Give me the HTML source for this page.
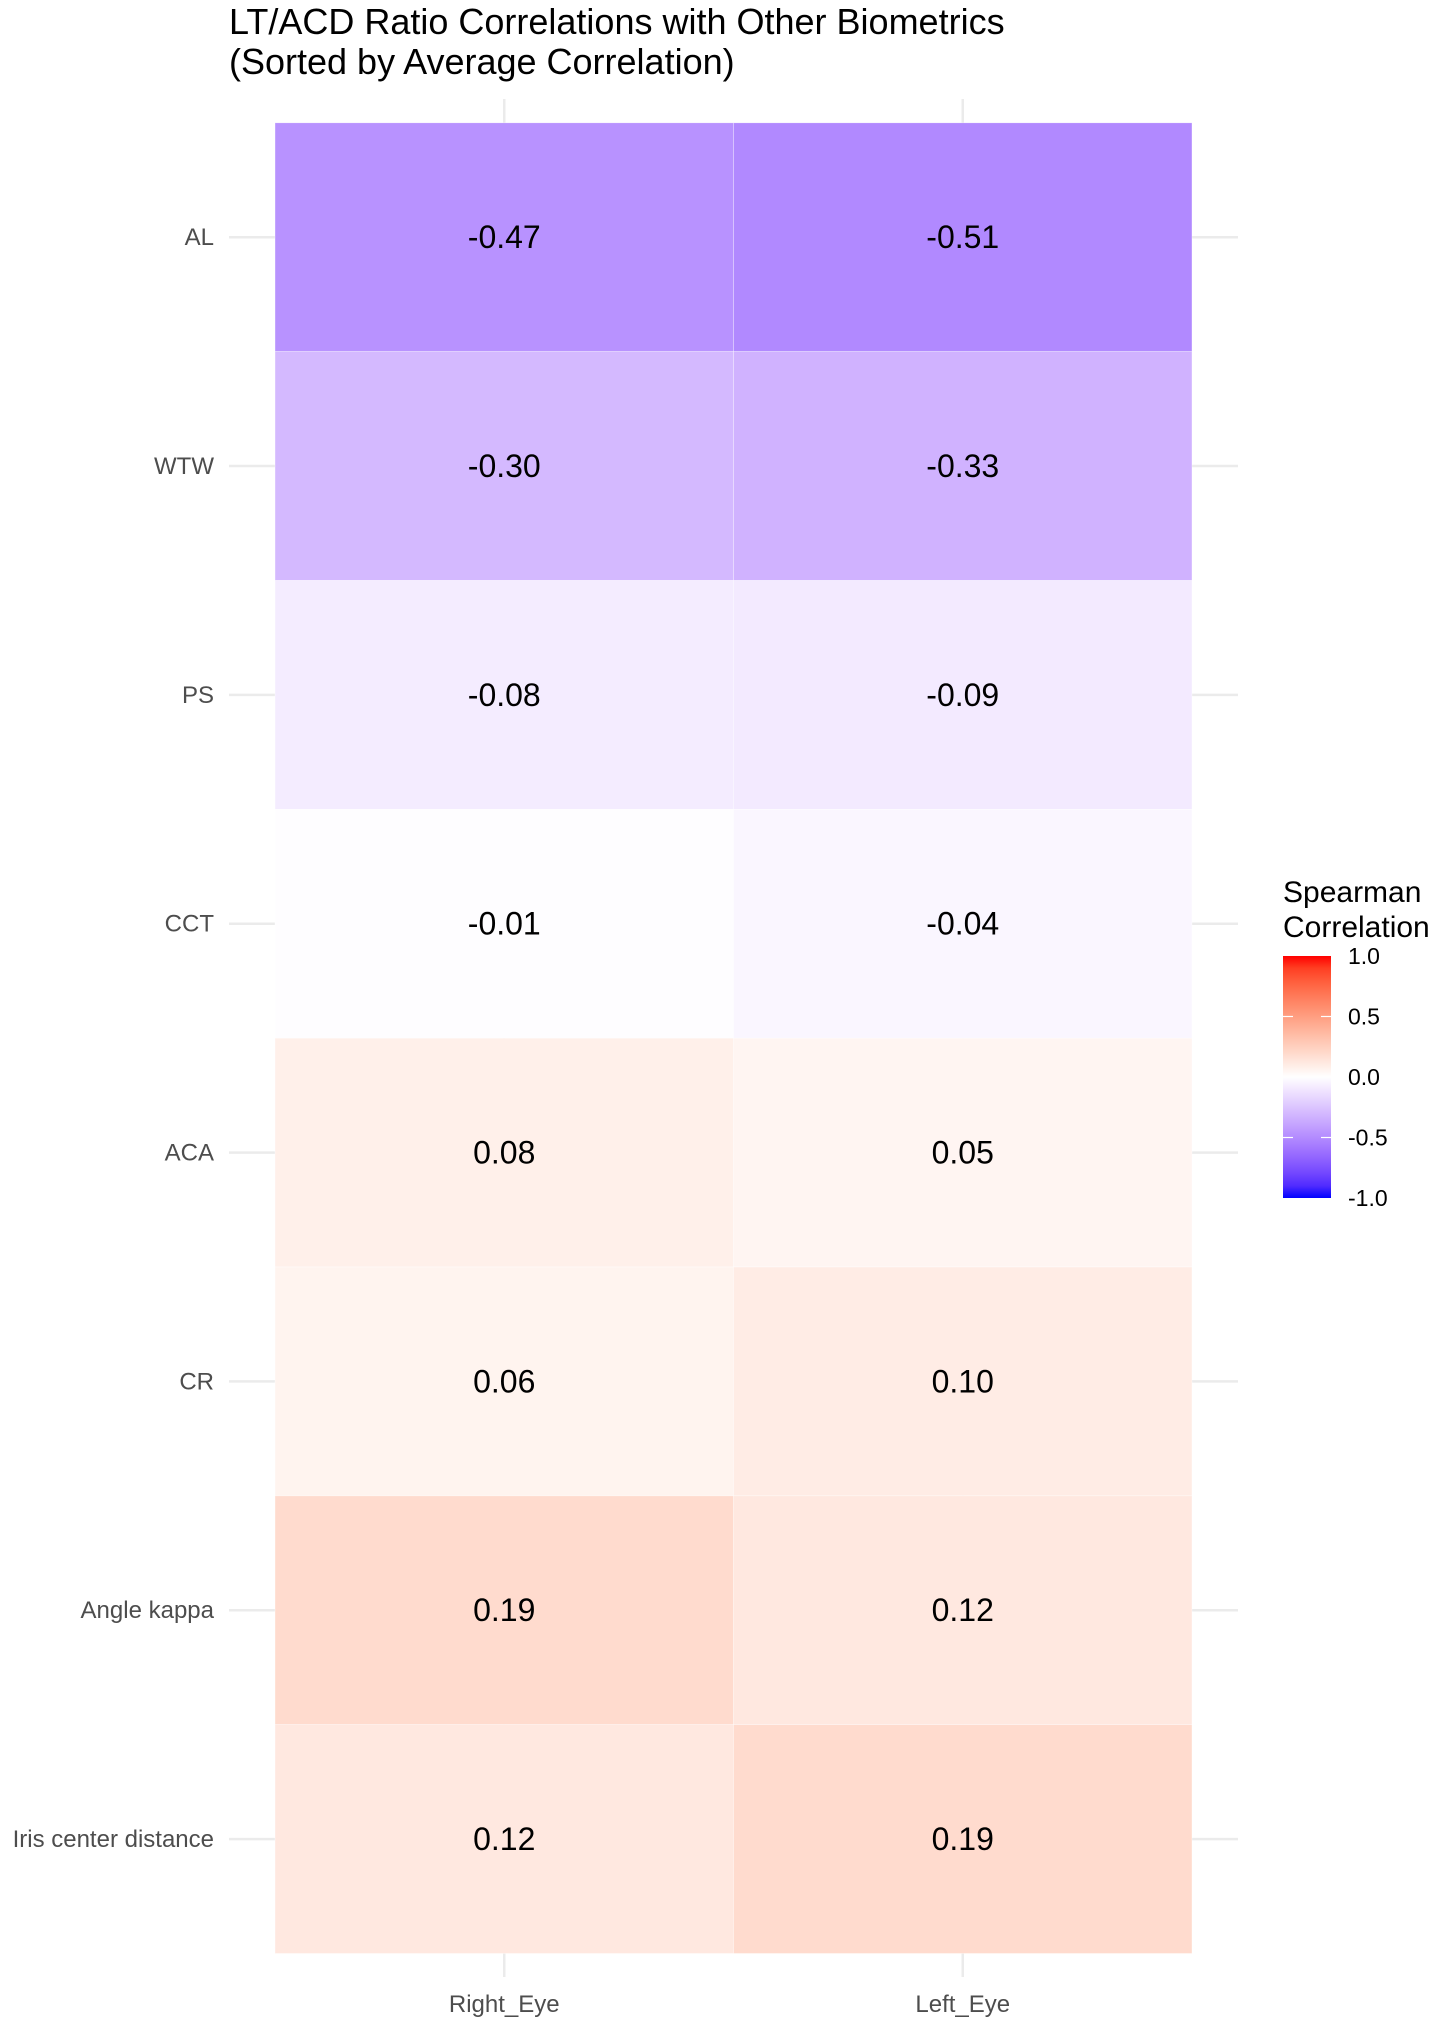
<!DOCTYPE html>
<html><head><meta charset="utf-8"><style>
body{margin:0;background:#fff;}
svg text{font-family:"Liberation Sans",sans-serif;}
</style></head><body>
<svg id="chart" width="1441" height="2025" xmlns="http://www.w3.org/2000/svg">
<defs>
<linearGradient id="lg" x1="0" y1="1" x2="0" y2="0"></linearGradient>
</defs>
<text x="229" y="34" font-size="36" fill="#000">LT/ACD Ratio Correlations with Other Biometrics</text>
<text x="229" y="74" font-size="36" fill="#000">(Sorted by Average Correlation)</text>
<g id="grid"></g><g id="cells"></g><g id="labels"></g><g id="legend"></g>
</svg>
<script>
const rows = ["AL","WTW","PS","CCT","ACA","CR","Angle kappa","Iris center distance"];
const cols = ["Right_Eye","Left_Eye"];
const rightEye = [-0.47,-0.30,-0.08,-0.01,0.08,0.06,0.19,0.12];
const leftEye = [-0.51,-0.33,-0.09,-0.04,0.05,0.10,0.12,0.19];
const legendTicks = [1.0,0.5,0.0,-0.5,-1.0];

const NS="http://www.w3.org/2000/svg";
function mk(tag,attrs,parent){const e=document.createElementNS(NS,tag);for(const k in attrs)e.setAttribute(k,attrs[k]);parent.appendChild(e);return e;}
function s2l(c){c/=255;return c<=0.04045?c/12.92:Math.pow((c+0.055)/1.055,2.4);}
function l2s(c){c=c<=0.0031308?12.92*c:1.055*Math.pow(c,1/2.4)-0.055;return Math.max(0,Math.min(255,Math.round(c*255)));}
function toLab(r,g,b){r=s2l(r);g=s2l(g);b=s2l(b);
 let X=(0.4124*r+0.3576*g+0.1805*b)/0.95047,Y=(0.2126*r+0.7152*g+0.0722*b),Z=(0.0193*r+0.1192*g+0.9505*b)/1.08883;
 const f=t=>t>0.008856?Math.cbrt(t):7.787*t+16/116;X=f(X);Y=f(Y);Z=f(Z);return [116*Y-16,500*(X-Y),200*(Y-Z)];}
function fromLab(L,a,b){let Y=(L+16)/116,X=a/500+Y,Z=Y-b/200;const fi=t=>t*t*t>0.008856?t*t*t:(t-16/116)/7.787;
 X=fi(X)*0.95047;Y=fi(Y);Z=fi(Z)*1.08883;
 const r=3.2406*X-1.5372*Y-0.4986*Z,g=-0.9689*X+1.8758*Y+0.0415*Z,bb=0.0557*X-0.2040*Y+1.0570*Z;
 return `rgb(${l2s(r)},${l2s(g)},${l2s(bb)})`;}
const W=toLab(255,255,255),R=toLab(255,0,0),B=toLab(0,0,255);
function col(v){const t=Math.min(1,Math.abs(v));const e=v>=0?R:B;return fromLab(W[0]+(e[0]-W[0])*t,W[1]+(e[1]-W[1])*t,W[2]+(e[2]-W[2])*t);}

const x0=275,x1=1192,y0=122.8,y1=1953.5;
const cw=(x1-x0)/cols.length, rh=(y1-y0)/rows.length;
const xc=i=>x0+cw*(i+0.5), yc=j=>y0+rh*(j+0.5);
const grid=document.getElementById('grid'),cells=document.getElementById('cells'),labels=document.getElementById('labels'),legend=document.getElementById('legend');
cols.forEach((c,i)=>{const l=mk('line',{x1:xc(i),x2:xc(i),y1:99,y2:1977,stroke:'#ebebeb','stroke-width':2.5},grid);
 
 const t=mk('text',{x:xc(i),y:2012,'font-size':24,'text-anchor':'middle',fill:'#4d4d4d'},labels);t.textContent=c;
 });
rows.forEach((r,j)=>{const l=mk('line',{x1:229,x2:1238,y1:yc(j),y2:yc(j),stroke:'#ebebeb','stroke-width':2.5},grid);
 
 const t=mk('text',{x:214,y:yc(j)+8,'font-size':24,'text-anchor':'end',fill:'#4d4d4d'},labels);t.textContent=r;
 });
const series=[rightEye,leftEye];
series.forEach((vals,i)=>vals.forEach((v,j)=>{
 const rc=mk('rect',{x:x0+cw*i,y:y0+rh*j,width:cw,height:rh,fill:col(v),stroke:'#fff','stroke-width':0.6,'stroke-opacity':0.6},cells);
 
 const t=mk('text',{x:xc(i),y:yc(j)+11,'font-size':32,'text-anchor':'middle',fill:'#000'},cells);t.textContent=v.toFixed(2);
 }));
const lg=document.getElementById('lg');
for(let k=0;k<=20;k++){const v=-1+k*0.1;mk('stop',{offset:(k/20*100)+'%','stop-color':col(v)},lg);}
const t1=mk('text',{x:1283,y:902,'font-size':30,fill:'#000'},legend);t1.textContent='Spearman';

const t2=mk('text',{x:1283,y:937,'font-size':30,fill:'#000'},legend);t2.textContent='Correlation';

const lb0=956,lb1=1198,ly=v=>lb0+(1-v)/2*(lb1-lb0);
const bar=mk('rect',{x:1283,y:lb0,width:48,height:lb1-lb0,fill:'url(#lg)'},legend);

legendTicks.forEach(v=>{
 if(Math.abs(v)<1){mk('line',{x1:1283,x2:1293,y1:ly(v),y2:ly(v),stroke:'#fff','stroke-width':1.2},legend);mk('line',{x1:1321,x2:1331,y1:ly(v),y2:ly(v),stroke:'#fff','stroke-width':1.2},legend);}
 const t=mk('text',{x:1348,y:ly(v)+8,'font-size':23,fill:'#000'},legend);t.textContent=v.toFixed(1);
 });
</script>
</body></html>
